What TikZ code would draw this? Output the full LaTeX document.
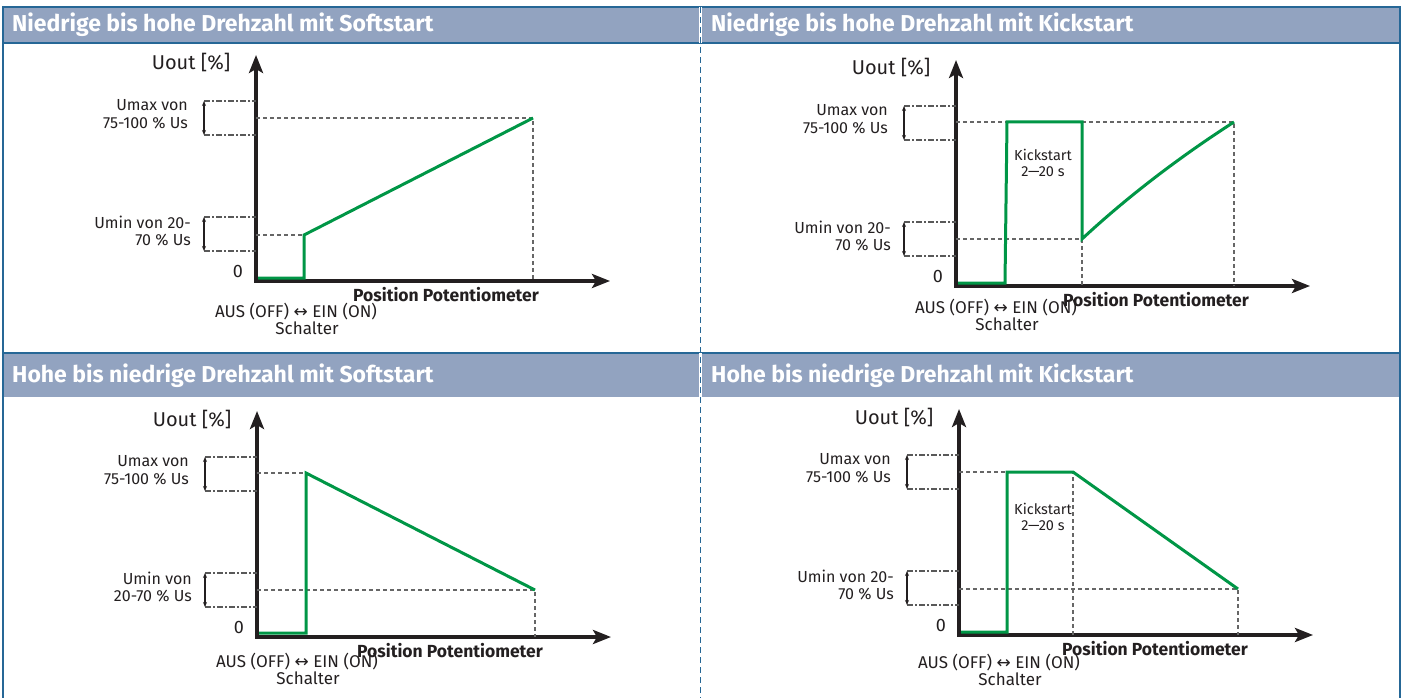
\documentclass[tikz,border=0pt]{standalone}
\usepackage{fontspec}
\setmainfont{Fira Sans}
\newfontfamily\symfont{DejaVu Sans}
\usetikzlibrary{arrows.meta}
\definecolor{hblue}{RGB}{146,163,192}
\definecolor{fblue}{RGB}{38,103,150}
\definecolor{cgreen}{RGB}{0,150,70}
\definecolor{ink}{RGB}{35,31,32}
\tikzset{
  chart/.style={x=1pt,y=-1pt},
  hdr/.style={anchor=west,inner sep=0pt,text=white,font=\fontsize{23}{26}\selectfont\bfseries},
  lbl/.style={inner sep=0pt,text=ink,font=\fontsize{16}{17.5}\selectfont},
  note/.style={inner sep=0pt,text=ink,font=\fontsize{17}{18}\selectfont},
  kick/.style={inner sep=0pt,align=center,text=ink,font=\fontsize{14.5}{16.5}\selectfont},
  xlab/.style={inner sep=0pt,text=ink,font=\fontsize{17.5}{19}\selectfont\bfseries},
  ylab/.style={inner sep=0pt,text=ink,font=\fontsize{20}{22}\selectfont},
  zero/.style={inner sep=0pt,text=ink,font=\fontsize{18}{20}\selectfont},
  axis/.style={draw=ink,line width=4pt,{Stealth[length=18pt,width=14pt,inset=4pt]}-{Stealth[length=18pt,width=14pt,inset=4pt]}},
  curve/.style={draw=cgreen,line width=3pt},
  guide/.style={draw=black!60,line width=1.2pt,dash pattern=on 4pt off 3pt},
  brk/.style={draw=black!65,line width=1.2pt,dash pattern=on 6pt off 2pt on 2pt off 2pt},
  span/.style={draw=ink,line width=1.1pt,{Stealth[length=5pt,width=4pt]}-{Stealth[length=5pt,width=4pt]}}
}

\begin{document}
\begin{tikzpicture}[chart]
  \useasboundingbox (0,0) rectangle (1405,698);
  % frame and header bands
  \fill[hblue] (3,7) rectangle (1400,43);
  \fill[hblue] (3,353) rectangle (1400,397);
  \draw[fblue,line width=1.5pt] (3,698) -- (3,7) -- (1400,7) -- (1400,698);
  \draw[fblue,line width=1.5pt] (3,43) -- (1400,43) (3,353) -- (1400,353);
  \draw[white,line width=3pt] (700.5,7) -- (700.5,43) (700.5,353) -- (700.5,397);
  \draw[fblue,line width=1.2pt,dash pattern=on 6pt off 4pt] (700.5,7) -- (700.5,698);
  \node[hdr] (t1) at (12,25) {Niedrige bis hohe Drehzahl mit Softstart};
  \node[hdr] (t2) at (711,25) {Niedrige bis hohe Drehzahl mit Kickstart};
  \node[hdr] (t3) at (12,376) {Hohe bis niedrige Drehzahl mit Softstart};
  \node[hdr] (t4) at (711,376) {Hohe bis niedrige Drehzahl mit Kickstart};
  % axes, ranges and labels of the four charts
  \foreach \i/\ox/\oy/\px/\ady/\mintxt in {
      1/256/281/190/31/{Umin von 20-\\70 \% Us},
      2/956/286/200/22/{Umin von 20-\\70 \% Us},
      3/257/637/193/25/{Umin von\\20-70 \% Us},
      4/959/635/196/28/{Umin von 20-\\70 \% Us}} {
    \begin{scope}[shift={(\ox,\oy)}]
      \coordinate (o\i) at (0,0);
      \draw[axis] (0,-226) -- (0,0) -- (354,0);
      \draw[brk] (-52,-180) -- (0,-180) (-52,-146) -- (0,-146);
      \draw[brk] (-52,-64) -- (0,-64) (-52,-30) -- (0,-30);
      \draw[span] (-52,-180) -- (-52,-146);
      \draw[span] (-52,-64) -- (-52,-30);
      \node[lbl,anchor=east,align=right] (umax\i) at (-68,-167) {Umax von\\75-100 \% Us};
      \node[lbl,anchor=east,align=right] (umin\i) at (-65,-50) {\mintxt};
      \node[zero] (zero\i) at (-18,-10) {0};
      \node[ylab] (uout\i) at (-65,-218) {Uout [\%]};
      \node[xlab] (pos\i) at (\px,14) {Position Potentiometer};
      \node[note] (aus\i) at (40,\ady) {AUS (OFF) {\symfont\fontsize{17}{17}\selectfont ↔} EIN (ON)};
      \node[note] (sch\i) at (51,\ady+16) {Schalter};
    \end{scope}
  }
  % Niedrige bis hohe, Softstart
  \begin{scope}[shift={(o1)}]
    \draw[guide] (0,-163) -- (277,-163) -- (277,0);
    \draw[guide] (0,-46) -- (48,-46);
    \draw[curve] (2,-3) -- (48,-3) -- (48,-46) -- (277,-163);
  \end{scope}
  % Niedrige bis hohe, Kickstart
  \begin{scope}[shift={(o2)}]
    \draw[guide] (0,-164) -- (278,-164) -- (278,0);
    \draw[guide] (0,-47) -- (126,-47) -- (126,0);
    \draw[curve] (2,-3) -- (49,-3) -- (51,-164) -- (126,-164) -- (126,-47)
      .. controls (170,-88) and (222,-128) .. (278,-164);
    \node[kick] (kick2) at (87,-123) {Kickstart\\2—20 s};
  \end{scope}
  % Hohe bis niedrige, Softstart
  \begin{scope}[shift={(o3)}]
    \draw[guide] (0,-164) -- (49,-164);
    \draw[guide] (0,-47) -- (278,-47) -- (278,0);
    \draw[curve] (2,-4) -- (49,-4) -- (49,-164) -- (278,-47);
  \end{scope}
  % Hohe bis niedrige, Kickstart
  \begin{scope}[shift={(o4)}]
    \draw[guide] (0,-163) -- (114,-163) -- (114,0);
    \draw[guide] (0,-46) -- (279,-46) -- (279,0);
    \draw[curve] (2,-3) -- (48,-3) -- (48,-163) -- (114,-163) -- (279,-46);
    \node[kick] (kick4) at (84,-118) {Kickstart\\2—20 s};
  \end{scope}
\end{tikzpicture}
\end{document}
